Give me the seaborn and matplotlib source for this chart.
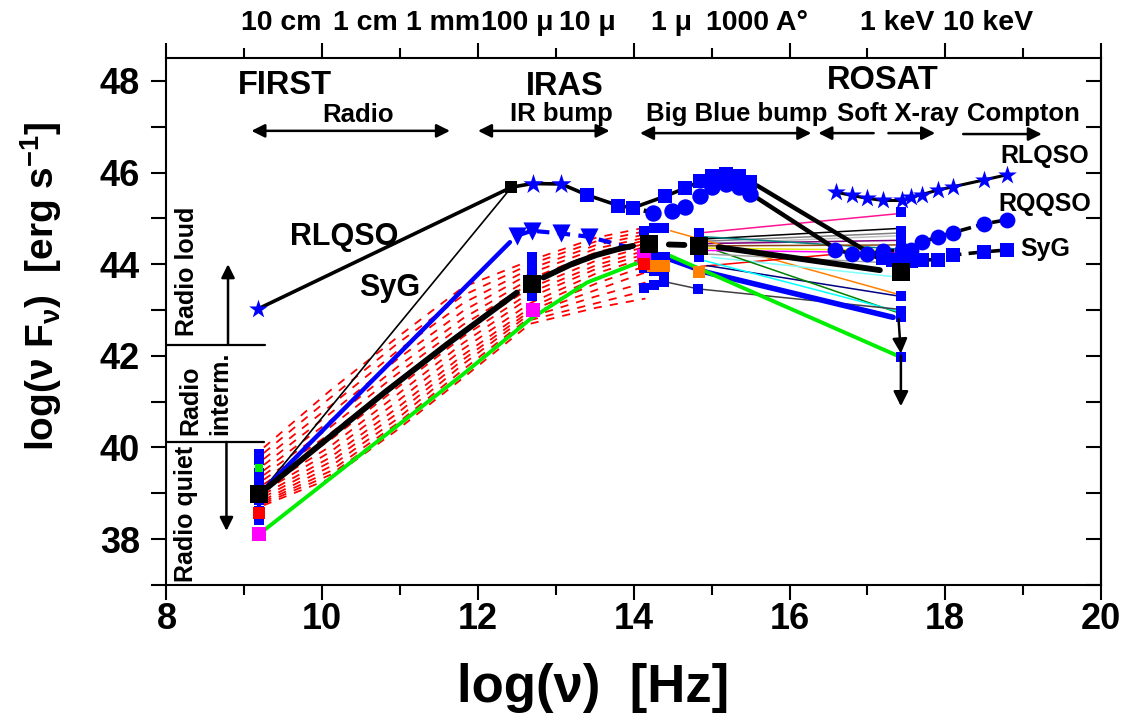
import matplotlib
matplotlib.use("Agg")
import matplotlib.pyplot as plt
import seaborn as sns
import numpy as np
from matplotlib.ticker import MultipleLocator

# ---------------- data ----------------
# RLQSO template (radio -> IR -> optical)
rl_radio_x = [9.17, 12.43]
rl_radio_y = [43.02, 45.68]
rl_ir_x = [12.43, 12.70, 13.07, 13.40, 13.80, 13.99, 14.40, 14.66, 14.85, 15.00, 15.19, 15.35, 15.49]
rl_ir_y = [45.68, 45.76, 45.75, 45.51, 45.28, 45.23, 45.48, 45.66, 45.81, 45.93, 45.97, 45.93, 45.79]
rl_star_x = [12.70, 13.07]
rl_star_y = [45.76, 45.75]
rl_sq_x = [13.40, 13.80, 13.99, 14.40, 14.66, 14.85, 15.00, 15.19, 15.35, 15.49]
rl_sq_y = [45.51, 45.28, 45.23, 45.48, 45.66, 45.81, 45.93, 45.97, 45.93, 45.79]
# RQQSO optical circles
rq_opt_x = [13.99, 14.25, 14.49, 14.66, 14.85, 15.00, 15.19, 15.35, 15.49]
rq_opt_y = [45.23, 45.12, 45.15, 45.24, 45.48, 45.68, 45.76, 45.69, 45.53]
# optical -> X-ray connectors
conn_sq_x = [15.58, 17.16]
conn_sq_y = [45.72, 44.11]
conn_ci_x = [15.58, 16.56]
conn_ci_y = [45.45, 44.37]
# X-ray templates
xr_star_x = [16.60, 16.80, 16.99, 17.20, 17.44, 17.56, 17.70, 17.91, 18.10, 18.50, 18.79]
xr_star_y = [45.57, 45.50, 45.44, 45.39, 45.39, 45.46, 45.52, 45.62, 45.69, 45.84, 45.95]
xr_circ_x = [16.59, 16.80, 16.99, 17.20, 17.44, 17.56, 17.70, 17.91, 18.10, 18.50, 18.79]
xr_circ_y = [44.32, 44.22, 44.22, 44.28, 44.31, 44.32, 44.48, 44.60, 44.69, 44.88, 44.97]
xr_sq_x = [17.20, 17.33, 17.44, 17.56, 17.70, 17.91, 18.10, 18.50, 18.79]
xr_sq_y = [44.14, 44.09, 44.08, 44.08, 44.09, 44.10, 44.20, 44.27, 44.31]

# SyG mean SED (thick black)
syg_a_x = [9.19, 10.0, 10.8, 11.6, 12.5]
syg_a_y = [38.98, 40.10, 41.20, 42.25, 43.38]
syg_b_x = [12.84, 13.20, 13.52, 13.80, 13.99]
syg_b_y = [43.71, 44.00, 44.20, 44.33, 44.40]
syg_c_x = [14.45, 14.65]
syg_c_y = [44.43, 44.42]
syg_d_x = [15.09, 17.16]
syg_d_y = [44.37, 43.87]
big_sq_x = [9.19, 12.69, 14.20, 14.84, 17.43]
big_sq_y = [38.98, 43.57, 44.44, 44.40, 43.82]

# individual Seyfert radio-IR SEDs (red dashed)
red_x = [9.25, 10.10, 10.96, 11.81, 12.67, 13.52, 14.15]
red_curves = [
    [40.00, 41.24, 42.40, 43.50, 44.08, 44.58, 44.80],
    [39.88, 41.08, 42.26, 43.32, 44.00, 44.50, 44.72],
    [39.75, 40.90, 42.10, 43.15, 43.90, 44.42, 44.65],
    [39.62, 40.74, 41.92, 42.98, 43.80, 44.34, 44.58],
    [39.50, 40.58, 41.75, 42.82, 43.68, 44.26, 44.52],
    [39.40, 40.44, 41.60, 42.68, 43.58, 44.17, 44.45],
    [39.30, 40.30, 41.45, 42.55, 43.48, 44.08, 44.38],
    [39.20, 40.16, 41.30, 42.42, 43.38, 43.98, 44.30],
    [39.12, 40.02, 41.15, 42.28, 43.28, 43.90, 44.22],
    [39.05, 39.90, 41.00, 42.15, 43.15, 43.80, 44.14],
    [38.98, 39.78, 40.86, 42.02, 43.05, 43.70, 44.06],
    [38.92, 39.68, 40.74, 41.92, 42.98, 43.58, 43.96],
    [38.86, 39.58, 40.62, 41.82, 42.92, 43.44, 43.82],
    [38.82, 39.48, 40.52, 41.70, 42.85, 43.30, 43.60],
    [38.78, 39.40, 40.45, 41.60, 42.78, 43.15, 43.42],
    [38.74, 39.32, 40.38, 41.52, 42.70, 43.05, 43.25],
]

# other individual SEDs
thin_blk_x = [9.19, 12.43]
thin_blk_y = [38.98, 45.68]
blue_radio_x = [9.19, 12.41]
blue_radio_y = [38.98, 44.48]
blue_tri_x = [12.50, 12.69, 13.07, 13.42, 14.08]
blue_tri_y = [44.62, 44.73, 44.67, 44.60, 44.30]
blue_opt_x = [14.13, 14.40, 14.94, 17.33]
blue_opt_y = [44.20, 44.15, 43.82, 42.84]
green_x = [9.19, 11.81, 12.67, 13.40, 14.08, 14.13, 14.47, 17.43]
green_y = [38.11, 41.60, 42.80, 43.60, 44.05, 44.18, 44.18, 41.97]
gray_low_x = [14.39, 14.83, 17.38]
gray_low_y = [43.62, 43.46, 43.02]

thin_start_x = [14.89, 14.90, 14.90, 14.95, 14.95, 14.90, 14.95, 14.47, 14.95, 14.85, 15.00, 14.94, 15.06, 14.90, 14.95, 14.95]
thin_start_y = [44.69, 44.55, 44.50, 44.45, 44.45, 44.60, 44.40, 44.73, 44.35, 43.95, 44.15, 43.97, 44.30, 44.08, 44.30, 44.22]
thin_end_x = [17.38, 17.40, 17.40, 17.40, 17.40, 17.40, 17.40, 17.38, 17.40, 16.60, 17.38, 17.38, 17.38, 17.38, 17.40, 17.40]
thin_end_y = [45.10, 44.78, 44.68, 44.62, 44.52, 44.33, 44.42, 43.35, 44.30, 44.22, 43.72, 43.31, 42.95, 42.98, 44.25, 44.02]
thin_colors = ["#ff1493", "#000000", "#808080", "#c0c0c0", "#800080", "#008080", "#8b4513", "#ff8000",
               "#e8e800", "#ff0000", "#80ffff", "#000080", "#008000", "#00ffff", "#ff00ff", "#a0a0a0"]

# markers (blue photometric points)
bsq_x = [9.19, 9.19, 9.19, 9.19, 9.19, 9.19, 9.19,
         12.69, 12.69, 12.69, 12.69, 12.69,
         14.13, 14.26, 14.39, 14.13, 14.26, 14.39, 14.13, 14.26, 14.39, 14.83, 14.84, 14.84, 14.27, 14.40,
         17.43, 17.43, 17.43, 17.43, 17.43, 17.43, 17.43, 17.43, 17.43, 17.43]
bsq_y = [39.85, 39.72, 39.45, 39.25, 38.85, 38.62, 38.42,
         44.15, 44.00, 43.85, 43.70, 43.30,
         44.73, 44.80, 44.80, 43.92, 43.86, 43.80, 43.49, 43.55, 43.62, 43.46, 44.69, 44.15, 44.15, 44.15,
         45.13, 44.73, 44.60, 44.45, 44.30, 44.15, 43.31, 42.98, 42.84, 41.97]
mag_x = [9.19, 12.71, 14.13]
mag_y = [38.11, 43.00, 44.18]
org_x = [14.25, 14.39, 14.84]
org_y = [43.97, 43.97, 43.84]
red_pt_x = [9.19, 14.13]
red_pt_y = [38.58, 44.00]

# text
top_labels = ["10 cm", "1 cm", "1 mm", "100 μ", "10 μ", "1 μ", "1000 A°", "1 keV", "10 keV"]
top_pos = [9.47, 10.55, 11.55, 12.50, 13.41, 14.49, 15.58, 17.38, 18.55]

# ---------------- style ----------------
sns.set_theme(style="ticks")
plt.rcParams["font.family"] = ["Liberation Sans", "DejaVu Sans"]
plt.rcParams["font.weight"] = "bold"
plt.rcParams["text.color"] = "black"
plt.rcParams["axes.labelcolor"] = "black"
plt.rcParams["xtick.color"] = "black"
plt.rcParams["ytick.color"] = "black"
plt.rcParams["axes.edgecolor"] = "black"
plt.rcParams["mathtext.fontset"] = "custom"
plt.rcParams["mathtext.rm"] = "Liberation Sans:bold"
plt.rcParams["mathtext.it"] = "Liberation Sans:italic:bold"
plt.rcParams["mathtext.bf"] = "Liberation Sans:bold"

fig = plt.figure(figsize=(11.28, 7.22), dpi=100)
ax = fig.add_axes([0.1476, 0.1898, 0.8285, 0.7299])

BLUE = "#0000ff"


def line(x, y, **kw):
    sns.lineplot(x=x, y=y, ax=ax, estimator=None, sort=False, legend=False, **kw)


def pts(x, y, marker, s, color, z=6):
    sns.scatterplot(x=x, y=y, ax=ax, marker=marker, s=s, color=color,
                    edgecolor=color, linewidth=0, legend=False, zorder=z)


# red dashed individual SEDs
for cy in red_curves:
    line(red_x, cy, color="#ff0000", lw=1.3, linestyle=(0, (4.5, 4.5)), zorder=2)

# thin coloured optical -> X-ray lines
for i in range(len(thin_colors)):
    line([thin_start_x[i], thin_end_x[i]], [thin_start_y[i], thin_end_y[i]],
         color=thin_colors[i], lw=1.1, zorder=3)
line(gray_low_x, gray_low_y, color="#404040", lw=1.1, zorder=3)

# other lines
line(thin_blk_x, thin_blk_y, color="black", lw=1.2, zorder=3)
line(blue_radio_x, blue_radio_y, color=BLUE, lw=3.2, zorder=4)
line(blue_tri_x, blue_tri_y, color=BLUE, lw=3.0, linestyle=(0, (3, 2)), zorder=4)
pts(blue_tri_x[:4], blue_tri_y[:4], "v", 170, BLUE)
line(blue_opt_x, blue_opt_y, color=BLUE, lw=4.0, zorder=4)
line(green_x, green_y, color="#00ee00", lw=2.8, zorder=4)

# SyG mean SED
for sx, sy in [(syg_a_x, syg_a_y), (syg_b_x, syg_b_y), (syg_c_x, syg_c_y), (syg_d_x, syg_d_y)]:
    line(sx, sy, color="black", lw=4.2, zorder=5, solid_capstyle="round")

# RLQSO template
line(rl_radio_x, rl_radio_y, color="black", lw=2.6, zorder=5)
line(rl_ir_x, rl_ir_y, color="black", lw=2.6, zorder=5)
line(rq_opt_x, rq_opt_y, color="black", lw=3.2, linestyle=(0, (1, 1.5)), zorder=5)
line(conn_sq_x, conn_sq_y, color="black", lw=3.2, zorder=5)
line(conn_ci_x, conn_ci_y, color="black", lw=3.2, zorder=5)
line(xr_star_x, xr_star_y, color="black", lw=2.2, zorder=5)
line(xr_circ_x, xr_circ_y, color="black", lw=2.6, linestyle=(0, (3, 1.5)), zorder=5)
line(xr_sq_x, xr_sq_y, color="black", lw=2.6, linestyle=(0, (4, 2)), zorder=5)

# blue vertical bars of photometry
line([9.19, 9.19], [38.42, 39.85], color=BLUE, lw=3.0, zorder=5)
line([12.69, 12.69], [43.70, 44.15], color=BLUE, lw=3.0, zorder=5)
line([17.43, 17.43], [44.0, 44.8], color=BLUE, lw=3.0, zorder=5)

pts(bsq_x, bsq_y, "s", 45, BLUE)
pts(rl_star_x, rl_star_y, "*", 230, BLUE)
pts([rl_radio_x[0]], [rl_radio_y[0]], "*", 200, BLUE)
pts(rl_sq_x, rl_sq_y, "s", 110, BLUE)
pts(rq_opt_x[1:], rq_opt_y[1:], "o", 140, BLUE)
pts(xr_star_x, xr_star_y, "*", 200, BLUE)
pts(xr_circ_x, xr_circ_y, "o", 130, BLUE)
pts(xr_sq_x, xr_sq_y, "s", 100, BLUE)
pts(mag_x, mag_y, "s", 90, "#ff00ff")
pts(org_x, org_y, "s", 70, "#ff8000")
pts(red_pt_x, red_pt_y, "s", 80, "#ff0000")
pts([9.19], [39.56], "s", 30, "#00ee00")
pts([rl_radio_x[1]], [rl_radio_y[1]], "s", 80, "black", z=7)
pts(big_sq_x, big_sq_y, "s", 180, "black", z=7)

# vertical upper-limit arrows at 17.43
arr = dict(arrowstyle="-|>", color="black", lw=1.8, mutation_scale=22, shrinkA=0, shrinkB=0)
ax.annotate("", xy=(17.43, 42.05), xytext=(17.40, 42.80), arrowprops=arr, zorder=8)
ax.annotate("", xy=(17.43, 40.90), xytext=(17.43, 42.0), arrowprops=arr, zorder=8)

# ---------------- annotations ----------------
dbl = dict(arrowstyle="<|-|>", color="black", lw=1.8, mutation_scale=20, shrinkA=0, shrinkB=0)
one = dict(arrowstyle="-|>", color="black", lw=1.8, mutation_scale=20, shrinkA=0, shrinkB=0)
ax.annotate("", xy=(11.64, 46.91), xytext=(9.09, 46.91), arrowprops=dbl)
ax.annotate("", xy=(13.69, 46.91), xytext=(12.00, 46.91), arrowprops=dbl)
ax.annotate("", xy=(16.28, 46.86), xytext=(14.08, 46.86), arrowprops=dbl)
ax.annotate("", xy=(16.37, 46.86), xytext=(17.08, 46.86), arrowprops=one)
ax.annotate("", xy=(17.87, 46.86), xytext=(17.27, 46.86), arrowprops=one)
ax.annotate("", xy=(19.24, 46.84), xytext=(18.23, 46.84), arrowprops=one)

tk = dict(fontweight="bold", color="black", ha="center", va="baseline")
ax.text(9.52, 47.72, "FIRST", fontsize=23.5, **tk)
ax.text(13.12, 47.70, "IRAS", fontsize=23.5, **tk)
ax.text(17.20, 47.83, "ROSAT", fontsize=23.5, **tk)
ax.text(10.46, 47.11, "Radio", fontsize=18.5, **tk)
ax.text(13.07, 47.13, "IR bump", fontsize=18.5, **tk)
ax.text(15.32, 47.13, "Big Blue bump", fontsize=18.5, **tk)
ax.text(17.39, 47.13, "Soft X-ray", fontsize=18.5, **tk)
ax.text(19.00, 47.13, "Compton", fontsize=18.5, **tk)

ax.text(10.28, 44.60, "RLQSO", fontsize=22, fontweight="bold", ha="center", va="center")
ax.text(10.87, 43.49, "SyG", fontsize=22, fontweight="bold", ha="center", va="center")
ax.text(19.28, 46.36, "RLQSO", fontsize=18, fontweight="bold", ha="center", va="center")
ax.text(19.28, 45.31, "RQQSO", fontsize=18, fontweight="bold", ha="center", va="center")
ax.text(19.28, 44.34, "SyG", fontsize=18, fontweight="bold", ha="center", va="center")

# radio loudness division
line([8.0, 9.26], [42.24, 42.24], color="black", lw=1.6)
line([8.0, 9.25], [40.12, 40.12], color="black", lw=1.6)
ax.annotate("", xy=(8.79, 44.0), xytext=(8.79, 42.24), arrowprops=one)
ax.annotate("", xy=(8.77, 38.18), xytext=(8.77, 40.12), arrowprops=one)
ax.text(8.26, 43.85, "Radio loud", rotation=90, fontsize=18, fontweight="bold", ha="center", va="center")
ax.text(8.50, 41.19, "Radio\ninterm.", rotation=90, fontsize=18, fontweight="bold",
        ha="center", va="center", multialignment="left", linespacing=1.3)
ax.text(8.25, 38.55, "Radio quiet", rotation=90, fontsize=18, fontweight="bold", ha="center", va="center")

# top wavelength/energy labels
for lab, p in zip(top_labels, top_pos):
    ax.text(p, 49.10, lab, fontsize=20.5, fontweight="bold", ha="center", va="baseline", clip_on=False)

# ---------------- axes ----------------
ax.set_xlim(8, 20)
ax.set_ylim(37, 48.5)
ax.xaxis.set_major_locator(MultipleLocator(2))
ax.xaxis.set_minor_locator(MultipleLocator(1))
ax.yaxis.set_major_locator(MultipleLocator(2))
ax.yaxis.set_minor_locator(MultipleLocator(1))
ax.tick_params(axis="x", which="both", top=True, bottom=True, direction="out", width=1.5,
               labelsize=26, pad=1)
ax.tick_params(axis="x", which="major", length=11)
ax.tick_params(axis="x", which="minor", length=7)
ax.tick_params(axis="y", which="both", left=True, right=False, direction="out", length=11, width=1.5,
               labelsize=26, pad=8)
for lab in ax.get_xticklabels() + ax.get_yticklabels():
    lab.set_fontweight("bold")
for sp in ax.spines.values():
    sp.set_linewidth(1.5)
    sp.set_color("black")
    sp.set_visible(True)

sec = ax.secondary_yaxis("right")
sec.yaxis.set_major_locator(MultipleLocator(1))
sec.tick_params(axis="y", direction="in", length=11, width=1.5, labelright=False, color="black")
sec.spines["right"].set_linewidth(1.5)

ax.set_xlabel("log(ν)  [Hz]", fontsize=38, fontweight="bold")
ax.set_ylabel("log(ν F$_\\mathregular{ν}$)  [erg s$^\\mathregular{-1}$]", fontsize=28,
              fontweight="bold")
ax.xaxis.set_label_coords(0.456, -0.148)
ax.yaxis.set_label_coords(-0.11, 0.567)

fig.savefig("out.png", dpi=100)
